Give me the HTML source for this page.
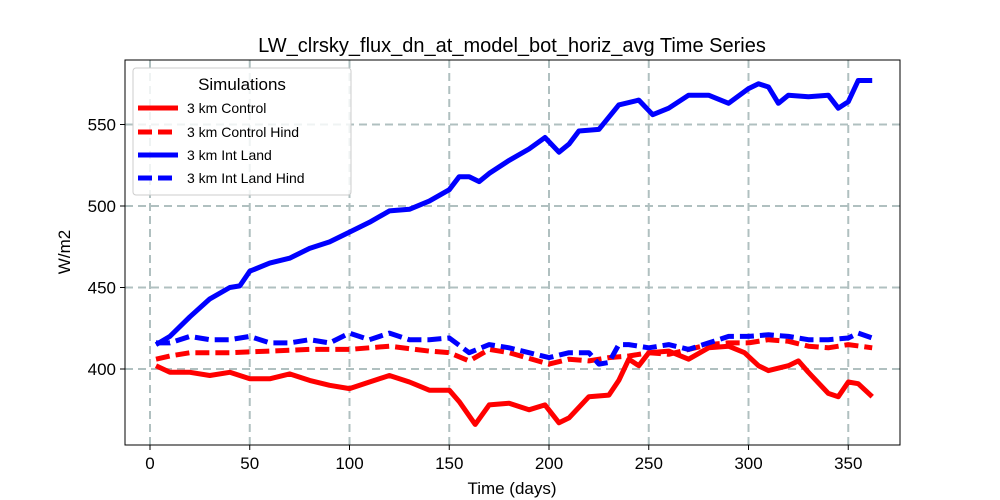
<!DOCTYPE html>
<html><head><meta charset="utf-8"><style>
body{margin:0;background:#fff;font-family:"Liberation Sans","DejaVu Sans",sans-serif}
svg{display:block}
</style></head><body>
<svg id="chart" width="1000" height="500" xmlns="http://www.w3.org/2000/svg">
<rect x="0" y="0" width="1000" height="500" fill="#fff"/>
<g id="grid"></g>
<g id="series"></g>
<rect x="125" y="60" width="775" height="385" fill="none" stroke="#000" stroke-width="1"/>
<g id="ticks"></g>
<text x="512" y="52" font-size="20" text-anchor="middle">LW_clrsky_flux_dn_at_model_bot_horiz_avg Time Series</text>
<text x="512" y="494" font-size="17" text-anchor="middle">Time (days)</text>
<text x="70" y="252" font-size="17" text-anchor="middle" transform="rotate(-90 70 252)">W/m2</text>
<g>
<rect x="133" y="68" width="218" height="127" rx="3" fill="#fff" fill-opacity="0.8" stroke="#ccc"/>
<text x="242" y="90" font-size="17" text-anchor="middle">Simulations</text>
<g><line x1="138" y1="108" x2="178" y2="108" stroke="red" stroke-width="5"/><text x="187" y="113" font-size="14">3 km Control</text></g>
<g><line x1="138" y1="132" x2="178" y2="132" stroke="red" stroke-width="5" stroke-dasharray="14,6"/><text x="187" y="137" font-size="14">3 km Control Hind</text></g>
<g><line x1="138" y1="155" x2="178" y2="155" stroke="blue" stroke-width="5"/><text x="187" y="160" font-size="14">3 km Int Land</text></g>
<g><line x1="138" y1="178" x2="178" y2="178" stroke="blue" stroke-width="5" stroke-dasharray="14,6"/><text x="187" y="183" font-size="14">3 km Int Land Hind</text></g>
</g>
</svg>
<script>
const xTicks=[0,50,100,150,200,250,300,350];
const yTicks=[400,450,500,550];
const intLandDays=[3,10,20,30,40,45,50,60,70,80,90,100,110,120,130,140,150,155,160,165,170,180,190,198,205,210,215,225,235,245,252,260,270,280,290,300,305,310,315,320,330,340,345,350,355,362];
const intLandVals=[415,420,432,443,450,451,460,465,468,474,478,484,490,497,498,503,510,518,518,515,520,528,535,542,533,538,546,547,562,565,556,560,568,568,563,572,575,573,563,568,567,568,560,564,577,577];
const controlDays=[3,10,20,30,40,50,60,70,80,90,100,110,120,130,140,150,155,163,170,180,190,198,205,210,220,230,235,240,245,250,260,270,280,290,298,305,310,320,325,330,340,345,350,355,362];
const controlVals=[402,398,398,396,398,394,394,397,393,390,388,392,396,392,387,387,380,366,378,379,375,378,367,370,383,384,393,406,402,410,411,406,413,414,410,402,399,402,405,398,385,383,392,391,383];
const ctrlHindDays=[3,10,20,40,60,80,100,120,140,150,160,170,180,200,210,220,230,240,250,260,270,280,290,300,310,320,330,340,350,362];
const ctrlHindVals=[406,408,410,410,411,412,412,414,411,410,405,412,410,403,406,405,407,408,410,409,412,415,416,416,418,417,414,413,415,413];
const ilHindDays=[3,10,20,30,40,50,60,70,80,90,100,110,120,130,140,150,160,170,180,190,200,210,220,225,230,235,240,250,260,270,280,290,300,310,320,330,340,350,355,362];
const ilHindVals=[416,416,420,418,418,420,416,416,418,416,422,418,422,418,418,419,410,415,413,410,407,410,410,403,404,415,415,413,415,412,416,420,420,421,420,418,418,419,422,419];
const X=d=>150+d*1.995, Y=v=>369-(v-400)*1.63;
const NS="http://www.w3.org/2000/svg";
const grid=document.getElementById('grid'),ticks=document.getElementById('ticks'),ser=document.getElementById('series');
function mk(tag,attrs,parent){const e=document.createElementNS(NS,tag);for(const k in attrs)e.setAttribute(k,attrs[k]);parent.appendChild(e);return e;}
xTicks.forEach(t=>{const x=X(t);
 const g=mk('line',{x1:x,x2:x,y1:60,y2:445,stroke:'#b0c0c0','stroke-width':2,'stroke-dasharray':'8,5'},grid);
 
 
 const tk=mk('line',{x1:x,x2:x,y1:445,y2:450,stroke:'#000'},ticks);
 
 
 const tx=mk('text',{x:x,y:469,'font-size':17,'text-anchor':'middle'},ticks);tx.textContent=t;
 
 
});
yTicks.forEach(t=>{const y=Y(t);
 const g=mk('line',{x1:125,x2:900,y1:y,y2:y,stroke:'#b0c0c0','stroke-width':2,'stroke-dasharray':'8,5'},grid);
 
 
 const tk=mk('line',{x1:120,x2:125,y1:y,y2:y,stroke:'#000'},ticks);
 
 
 const tx=mk('text',{x:116,y:y+6,'font-size':17,'text-anchor':'end'},ticks);tx.textContent=t;
 
 
});
function line(days,vals,color,dash,name){
 const d=days.map((t,i)=>(i?'L':'M')+X(t).toFixed(1)+','+Y(vals[i]).toFixed(1)).join('');
 const p=mk('path',{d:d,fill:'none',stroke:color,'stroke-width':5,'stroke-linejoin':'round'},ser);
 if(dash)p.setAttribute('stroke-dasharray','14,6');
 
 
}
line(controlDays,controlVals,'red',false,'series-control');
line(ctrlHindDays,ctrlHindVals,'red',true,'series-control-hind');
line(intLandDays,intLandVals,'blue',false,'series-int-land');
line(ilHindDays,ilHindVals,'blue',true,'series-int-land-hind');
</script>
</body></html>
